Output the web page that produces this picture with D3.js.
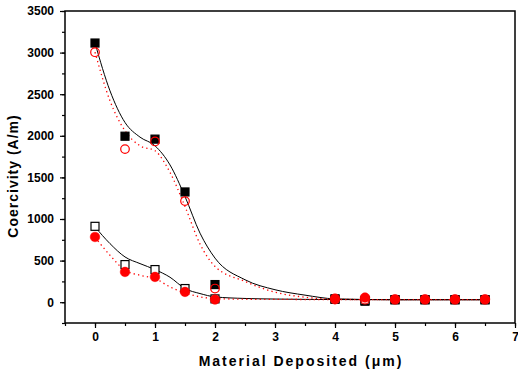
<!DOCTYPE html>
<html>
<head>
<meta charset="utf-8">
<script src="https://d3js.org/d3.v7.min.js"></script>
<style>
body { margin: 0; background: #fff; }
text { font-family: "Liberation Sans", Arial, sans-serif; font-weight: bold; }
</style>
</head>
<body>
<div id="chart"></div>
<script>
// measured points
var xs = [0, 0.5, 1, 1.5, 2, 4, 4.5, 5, 5.5, 6, 6.5];
var filledSquare = [3115, 1995, 1960, 1325, 212, 40, 12, 30, 30, 30, 30];
var openCircle = [3005, 1840, 1932, 1215, 164, 32, 30, 30, 30, 30, 30];
var openSquare = [912, 452, 392, 164, 40, 35, 22, 30, 30, 30, 30];
var filledCircle = [784, 364, 304, 124, 32, 44, 56, 36, 36, 36, 36];

// fitted curves
var fitX = [0, 0.25, 0.5, 0.75, 1, 1.25, 1.5, 1.75, 2, 2.5, 3, 3.5, 4, 5, 6, 6.5];
var fitUpperBlack = [3115, 2540, 2160, 1984, 1880, 1650, 1270, 830, 530, 270, 150, 85, 40, 30, 30, 30];
var fitUpperRed = [3005, 2420, 2060, 1880, 1820, 1560, 1150, 700, 430, 250, 120, 60, 35, 30, 30, 30];
var fitLowerBlack = [905, 704, 544, 464, 392, 300, 164, 104, 64, 45, 38, 34, 32, 30, 30, 30];
var fitLowerRed = [780, 564, 384, 324, 284, 184, 112, 64, 44, 36, 34, 32, 31, 30, 30, 30];

var xTicks = [0, 1, 2, 3, 4, 5, 6, 7];
var yTicks = [0, 500, 1000, 1500, 2000, 2500, 3000, 3500];

var width = 518, height = 374;
var margin = {left: 65, right: 3, top: 11, bottom: 51};

var svg = d3.select("#chart").append("svg")
    .attr("width", width)
    .attr("height", height);

var x = d3.scaleLinear().domain([-0.5, 7]).range([margin.left, width - margin.right]);
var y = d3.scaleLinear().domain([-250, 3500]).range([height - margin.bottom, margin.top]);

// frame
svg.append("rect")
    .attr("x", x(-0.5)).attr("y", y(3500))
    .attr("width", x(7) - x(-0.5)).attr("height", y(-250) - y(3500))
    .style("fill", "none").style("stroke", "#000").style("stroke-width", 1.5);

// x axis
var xAxis = svg.append("g").attr("transform", "translate(0," + y(-250) + ")");
xAxis.call(d3.axisBottom(x).tickValues(d3.range(-0.5, 7.01, 0.5)).tickSize(3).tickFormat(""));
xAxis.append("g").call(d3.axisBottom(x).tickValues(xTicks).tickSize(5).tickPadding(4).tickFormat(d3.format("d")));
xAxis.selectAll(".domain").remove();
xAxis.selectAll("line").style("stroke-width", 1.2);
xAxis.selectAll("text").style("font-size", "12px").style("fill", "#000");

// y axis
var yAxis = svg.append("g").attr("transform", "translate(" + x(-0.5) + ",0)");
yAxis.call(d3.axisLeft(y).tickValues(d3.range(-250, 3501, 250)).tickSize(3).tickFormat(""));
yAxis.append("g").call(d3.axisLeft(y).tickValues(yTicks).tickSize(5).tickPadding(6).tickFormat(d3.format("d")));
yAxis.selectAll(".domain").remove();
yAxis.selectAll("line").style("stroke-width", 1.2);
yAxis.selectAll("text").style("font-size", "12px").style("fill", "#000");

// titles
svg.append("text")
    .attr("x", 301)
    .attr("y", 366)
    .attr("text-anchor", "middle")
    .style("font-size", "14px")
    .style("letter-spacing", "2px")
    .text("Material Deposited (\u03bcm)");

svg.append("text")
    .attr("transform", "translate(18,176) rotate(-90)")
    .attr("text-anchor", "middle")
    .style("font-size", "14px")
    .style("letter-spacing", "1px")
    .text("Coercivity (A/m)");

// fit lines
var line = d3.line().x(function(d) { return x(d[0]); }).y(function(d) { return y(d[1]); })
    .curve(d3.curveMonotoneX);

function drawFit(vals, color, dash) {
    svg.append("path")
        .datum(fitX.map(function(v, i) { return [v, vals[i]]; }))
        .attr("d", line)
        .style("fill", "none")
        .style("stroke", color)
        .style("stroke-width", dash ? 1.3 : 1)
        .style("stroke-dasharray", dash ? "1.3,3.2" : null);
}
drawFit(fitUpperBlack, "#000", false);
drawFit(fitUpperRed, "#ff0000", true);
drawFit(fitLowerBlack, "#000", false);
drawFit(fitLowerRed, "#ff0000", true);

// markers
function drawSquares(vals, fill) {
    svg.append("g").selectAll("rect").data(vals).enter().append("rect")
        .attr("x", function(d, i) { return x(xs[i]) - 4; })
        .attr("y", function(d) { return y(d) - 4; })
        .attr("width", 8).attr("height", 8)
        .style("fill", fill)
        .style("stroke", "#000")
        .style("stroke-width", 1.2);
}
function drawCircles(vals, fill) {
    svg.append("g").selectAll("circle").data(vals).enter().append("circle")
        .attr("cx", function(d, i) { return x(xs[i]); })
        .attr("cy", function(d) { return y(d); })
        .attr("r", fill === "none" ? 4.3 : 4.8)
        .style("fill", fill === "none" ? "#fff" : fill)
        .style("fill-opacity", fill === "none" ? 0 : 1)
        .style("stroke", "#ff0000")
        .style("stroke-width", fill === "none" ? 1.2 : 0.5);
}
drawSquares(filledSquare, "#000");
drawSquares(openSquare, "#fff");
drawCircles(openCircle, "none");
drawCircles(filledCircle, "#ff0000");
</script>
</body>
</html>
